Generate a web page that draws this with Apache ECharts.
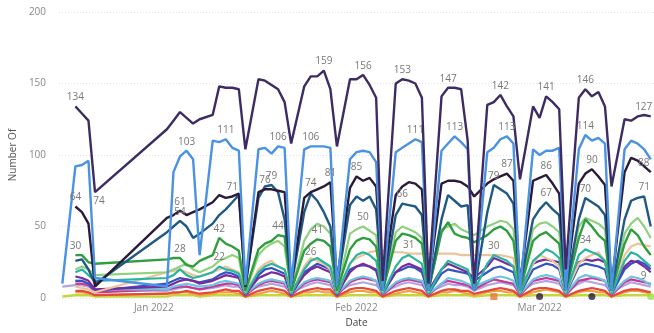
<!DOCTYPE html>
<html><head><meta charset="utf-8">
<script src="https://cdn.jsdelivr.net/npm/echarts@6/dist/echarts.min.js"></script>
<style>html,body{margin:0;padding:0;background:#fff}#c{width:654px;height:333px}</style>
</head><body><div id="c"></div>
<script>
const dates = ['2021-12-18','2021-12-20','2021-12-21','2021-12-22','2021-12-23',
'2022-01-03','2022-01-04','2022-01-05','2022-01-06','2022-01-07','2022-01-08',
'2022-01-10','2022-01-11','2022-01-12','2022-01-13','2022-01-14','2022-01-15',
'2022-01-17','2022-01-18','2022-01-19','2022-01-20','2022-01-21','2022-01-22',
'2022-01-24','2022-01-25','2022-01-26','2022-01-27','2022-01-28','2022-01-29',
'2022-01-31','2022-02-01','2022-02-02','2022-02-03','2022-02-04','2022-02-05',
'2022-02-07','2022-02-08','2022-02-09','2022-02-10','2022-02-11','2022-02-12',
'2022-02-14','2022-02-15','2022-02-16','2022-02-17','2022-02-18','2022-02-19',
'2022-02-21','2022-02-22','2022-02-23','2022-02-24','2022-02-25','2022-02-26',
'2022-02-28','2022-03-01','2022-03-02','2022-03-03','2022-03-04','2022-03-05',
'2022-03-07','2022-03-08','2022-03-09','2022-03-10','2022-03-11','2022-03-12',
'2022-03-14','2022-03-15','2022-03-16','2022-03-17','2022-03-18'];

const s1 = [null,134,129,124,74, 118,124,130,126,122,125, 128,148,147,147,146,104, 153,152,149,146,137,108, 148,155,155,159,146,106, 153,153,156,149,140,12, 150,153,152,150,140,10, 141,147,147,146,110,10, 135,137,142,134,127,83, 134,126,141,137,132,20, 140,146,141,144,134,78, 125,124,127,128,127];
const s1Labels = [1,26,31,36,42,49,55,60,69];
const s1LabelsBelow = [4];
const s2 = [10,92,93,96,14, 8,88,99,103,97,30, 110,109,111,105,103,9, 104,105,101,106,105,8, 104,106,106,106,105,8, 97,102,103,102,95,5, 102,105,108,111,109,5, 103,108,113,109,104,5, 102,105,111,113,108,5, 104,100,103,103,105,5, 104,114,110,112,108,5, 104,110,108,104,97];
const s2Labels = [8,13,20,24,38,43,50,60];
const s3 = [null,64,60,52,8, 56,58,61,58,60,62, 67,72,70,71,73,8, 74,76,76,75,74,10, 70,74,76,78,81,12, 77,85,82,84,78,10, 72,78,81,80,76,10, 80,82,82,81,78,71, 80,83,85,87,82,10, 82,84,86,80,73,8, 80,87,90,85,79,8, 88,98,96,92,88];
const s3Labels = [1,7,14,18,24,27,30,50,55,61,69];
const s4 = [null,26,27,20,10, 46,50,54,50,42,45, 52,58,62,67,72,8, 70,78,79,74,55,8, 60,73,68,60,50,8, 65,71,68,71,62,5, 58,66,65,64,58,5, 55,72,68,64,65,5, 60,79,76,73,66,8, 55,62,67,62,58,5, 55,70,67,64,58,5, 55,68,70,71,50];
const s4Labels = [7,19,36,48,55,60,68];
const s5 = [null,30,30,25,24, 27,28,28,23,22,26, 30,42,38,36,33,5, 34,38,40,44,43,5, 33,38,41,40,36,5, 34,40,42,41,36,5, 40,45,44,42,38,5, 46,53,45,43,42,39, 44,48,50,47,40,5, 40,44,46,42,38,5, 42,55,50,44,40,5, 38,48,44,36,30];
const s5Labels = [1,7,12,20,25];
const s6 = [null,20,22,20,16, 18,20,22,24,20,18, 22,26,28,30,28,4, 30,35,38,40,36,4, 40,48,52,50,45,4, 45,48,50,47,44,4, 46,50,48,46,42,4, 48,50,52,48,46,44, 50,52,54,53,48,4, 48,52,53,50,46,4, 50,56,54,52,48,4, 45,52,56,50,42];
const s6Labels = [31];
const s7 = [null,18,20,16,12, 14,16,20,16,14,15, 18,22,20,19,17,3, 18,22,24,22,20,3, 20,26,28,25,22,3, 24,30,32,30,26,3, 22,28,30,27,24,3, 20,26,24,22,20,5, 24,30,28,26,22,3, 26,30,34,32,28,3, 30,34,32,30,26,3, 26,32,30,26,22];
const s7Labels = [12,24,48,60];
const s8 = [null,8,7,6,4, 18,19,20,18,16,15, 18,20,22,20,18,3, 20,24,26,22,20,3, 22,28,26,24,20,3, 24,28,30,32,33,33, 32,32,31,31,31,31, 31,31,31,30,30,30, 30,30,30,29,28,4, 24,30,28,26,22,4, 24,28,30,32,26,4, 30,36,38,37,36];
const s8Labels = [37];
const s9 = [null,15,14,12,6, 8,10,12,13,12,10, 12,14,16,15,14,3, 14,16,18,17,15,3, 16,20,22,20,18,3, 18,22,24,22,20,4, 18,22,24,22,20,5, 20,24,22,20,18,14, 22,28,26,24,22,6, 24,26,27,26,25,6, 25,27,26,27,25,6, 22,26,25,22,18];
const s10 = [null,12,12,10,5, 10,12,14,13,12,11, 13,16,18,17,15,2, 16,20,21,19,17,2, 18,21,24,22,20,2, 20,22,23,22,19,3, 18,20,22,21,18,3, 17,20,19,18,17,12, 18,21,22,20,18,3, 20,22,24,23,20,3, 22,24,23,22,20,3, 20,24,26,24,20];
const s11 = [null,10,10,9,4, 6,7,8,8,7,6, 8,9,10,10,9,2, 9,11,12,11,10,2, 10,12,13,12,11,2, 11,13,14,13,12,2, 10,12,13,12,11,2, 10,12,11,10,9,6, 11,13,12,11,10,2, 12,13,14,13,12,2, 12,13,14,13,12,2, 11,13,12,11,10];
const s12 = [null,5,5,4,2, 3,4,4,5,4,3, 4,5,6,5,5,1, 5,6,7,6,5,1, 5,6,7,6,6,1, 6,7,7,6,5,1, 5,6,7,6,5,1, 5,6,6,5,5,3, 5,6,7,6,5,1, 6,7,7,6,5,1, 5,6,7,6,5,1, 5,6,6,5,4];
const s13 = [8,9,9,8,6, 5,6,7,8,7,6, 7,8,9,8,8,4, 8,9,10,9,8,4, 8,10,11,10,9,4, 9,10,11,10,9,4, 8,10,11,10,9,4, 8,10,9,9,8,5, 9,10,11,10,9,4, 10,11,12,11,10,4, 10,12,11,10,9,4, 9,11,10,9,8];
const s14 = [1,2,2,2,1, 1,2,2,2,2,1, 2,2,2,2,2,1, 2,2,2,2,2,1, 2,2,2,2,2,1, 2,2,2,2,2,1, 2,2,2,2,2,1, 2,2,2,2,2,1, 2,2,2,2,2,1, 2,2,2,2,2,1, 2,2,2,2,2,1, 2,2,2,2,2];
const s15 = [null,4,4,3,2, 3,3,4,4,3,2, 3,4,4,4,3,1, 3,4,5,4,3,1, 4,4,5,4,4,1, 4,5,5,4,4,1, 3,4,5,4,3,1, 4,4,5,4,3,2, 4,5,5,4,4,1, 4,5,6,5,4,1, 4,5,5,4,4,1, 4,5,5,4,3];
const s16 = [null,12,12,10,6, 6,8,9,10,9,8, 9,11,12,11,10,3, 10,12,13,12,11,3, 11,13,14,13,12,3, 12,14,15,14,12,3, 11,13,14,13,12,3, 10,14,13,12,10,8, 12,14,15,14,12,3, 13,15,16,15,13,3, 14,16,15,14,12,3, 12,15,14,12,9];
const s16Labels = [69];
const dotsDark = [54,61];
const dotsOrange = [48];
const dotsLime = [69];

const ts = dates.map(d => { const p = d.split('-'); return Date.UTC(+p[0], +p[1]-1, +p[2]); });
const lastIdx = dates.length - 1;
const labelStyle = {show:true, position:'top', color:'#777', fontSize:10, fontFamily:'Open Sans, sans-serif', distance:4};
const labelEnd = Object.assign({}, labelStyle, {offset:[-7,0]});
const labelBelow = Object.assign({}, labelStyle, {position:'bottom', offset:[4,0]});
function mk(name, arr, color, width, labels, below) {
  labels = labels || [];
  below = below || [];
  return {
    name, type:'line', z:2, showSymbol:true, showAllSymbol:true, symbol:'circle', symbolSize:0.01, connectNulls:true,
    lineStyle:{color, width: width||2}, itemStyle:{color},
    label:{show:false},
    emphasis:{disabled:true},
    data: arr.map((v,i) => labels.indexOf(i) >= 0 ? {value:[ts[i], v], label: i === lastIdx ? labelEnd : labelStyle}
      : below.indexOf(i) >= 0 ? {value:[ts[i], v], label:labelBelow} : [ts[i], v])
  };
}
function dots(idx, color, symbol) {
  return {type:'scatter', symbol, symbolSize:7, itemStyle:{color}, z:5,
    data: idx.map(i => [ts[i], 1])};
}
const months = ['Jan','Feb','Mar','Apr','May','Jun','Jul','Aug','Sep','Oct','Nov','Dec'];
const chart = echarts.init(document.getElementById('c'));
chart.setOption({
  useUTC:true, animation:false,
  grid:{left:55, right:0, top:12, bottom:33},
  xAxis:{type:'time', min:Date.UTC(2021,11,17,12), max:Date.UTC(2022,2,18,12),
    minInterval: 28*86400000,
    name:'Date', nameLocation:'middle', nameGap:20,
    nameTextStyle:{color:'#444', fontSize:10, fontFamily:'Open Sans, sans-serif'},
    axisLine:{show:false}, axisTick:{show:false}, splitLine:{show:false},
    axisLabel:{color:'#888', fontSize:10, margin:5, fontFamily:'Open Sans, sans-serif', showMinLabel:false, showMaxLabel:false,
      formatter: v => { const d = new Date(v); return d.getUTCDate()===1 ? months[d.getUTCMonth()] + ' ' + d.getUTCFullYear() : ''; }}
  },
  yAxis:{type:'value', min:0, max:200, interval:50,
    name:'Number Of', nameLocation:'middle', nameGap:40, nameRotate:90,
    nameTextStyle:{color:'#555', fontSize:10, fontFamily:'Open Sans, sans-serif'},
    axisLine:{show:false}, axisTick:{show:false},
    axisLabel:{color:'#888', fontSize:10, margin:13, fontFamily:'Open Sans, sans-serif'},
    splitLine:{lineStyle:{color:'#e2e2e2', type:[1,2]}}
  },
  series:[
    mk('s14', s14, '#c3d641', 2.5),
    mk('s15', s15, '#f2a13a', 2.2),
    mk('s12', s12, '#e24a3b', 2.2),
    mk('s13', s13, '#b3a3e3', 2.2),
    mk('s11', s11, '#c8388f', 2.2),
    mk('s16', s16, '#6cc4e4', 2.2, s16Labels),
    mk('s10', s10, '#3452c4', 2.2),
    mk('s9', s9, '#7a2a9a', 2.2),
    mk('s8', s8, '#eec39a', 2.2, s8Labels),
    mk('s7', s7, '#2bb5a0', 2.2, s7Labels),
    mk('s6', s6, '#8fd17c', 2.2, s6Labels),
    mk('s5', s5, '#2e9e3e', 2.4, s5Labels),
    mk('s4', s4, '#1f5a85', 2.4, s4Labels),
    mk('s3', s3, '#2b1a3a', 2.4, s3Labels),
    mk('s2', s2, '#4a92e2', 2.4, s2Labels),
    mk('s1', s1, '#3d2c64', 2.4, s1Labels, s1LabelsBelow),
    dots(dotsDark, '#2b1a3a', 'circle'),
    dots(dotsOrange, '#e8773a', 'rect'),
    dots(dotsLime, '#9be03c', 'circle')
  ]
});
</script></body></html>
